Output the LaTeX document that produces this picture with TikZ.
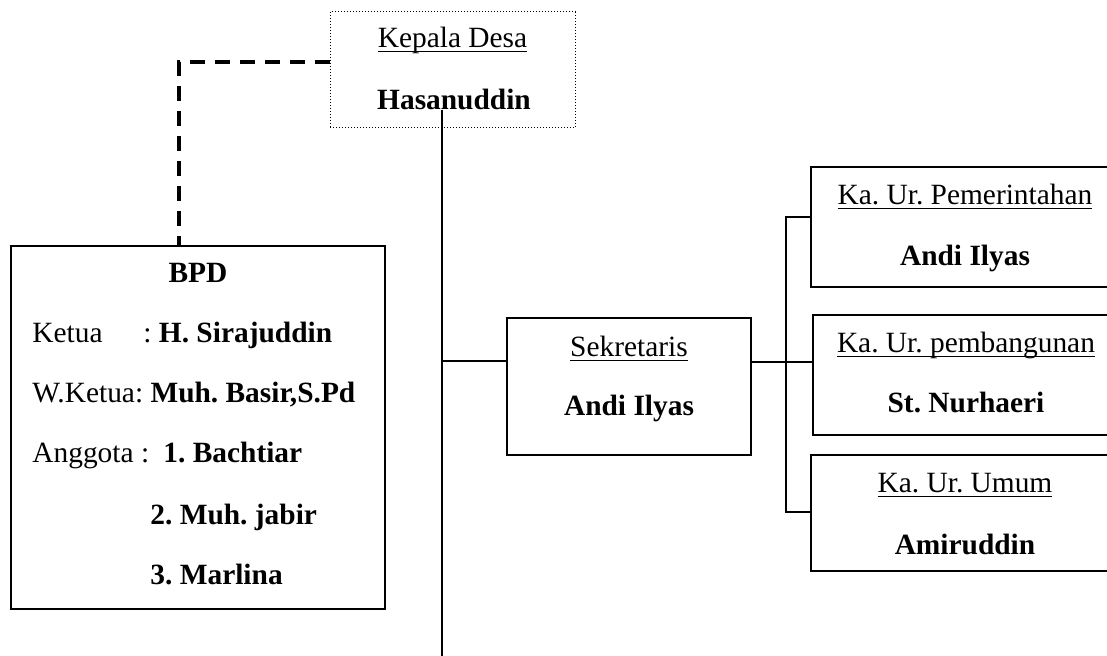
\documentclass[tikz,border=0pt]{standalone}
\usepackage{fontspec}
\setmainfont{Liberation Serif}
\frenchspacing
\newcommand\ulx[1]{\setbox0\hbox{#1}\rlap{\rule[-2.1pt]{\wd0}{0.75pt}}\box0}
\begin{document}
\begin{tikzpicture}[x=0.5pt,y=-0.5pt,
  every node/.style={font=\fontsize{14.7pt}{17pt}\selectfont\frenchspacing},
  box/.style={draw,line width=1pt,inner sep=0pt,rectangle},
  dotbox/.style={draw,line width=0.5pt,dash pattern=on 0.5pt off 1pt,inner sep=0pt,rectangle},
  txt/.style={inner sep=0pt,anchor=base},
  ltxt/.style={inner sep=0pt,anchor=base west},
  conn/.style={line width=0.85pt},
  dashline/.style={line width=1.75pt,dash pattern=on 7.5pt off 5pt}]
\useasboundingbox (0,0) rectangle (1107,656);
\clip (0,0) rectangle (1107,656);
% boxes
\node[dotbox,minimum width=122.5pt,minimum height=58pt] (kd) at (452.5,70) {};
\node[box,minimum width=187pt,minimum height=181.5pt] (bpd) at (198,427.5) {};
\node[box,minimum width=122pt,minimum height=68.5pt] (sek) at (629,386.5) {};
\node[box,minimum width=154pt,minimum height=60pt] (u1) at (965,227) {};
\node[box,minimum width=153pt,minimum height=60pt] (u2) at (966,375) {};
\node[box,minimum width=154pt,minimum height=58pt] (u3) at (965,513) {};
% texts
\node[txt] (kdt) at (452.5,48) {\ulx{Kepala Desa}};
\node[txt] (kdn) at (454,110) {\textbf{Hasanuddin}};
\node[txt] (bpdt) at (198,283) {\textbf{BPD}};
\node[ltxt] (k1) at (32,343) {Ketua};
\node[ltxt] (k2) at (143,343) {: \textbf{H. Sirajuddin}};
\node[ltxt] (w1) at (32,403) {W.Ketua: \textbf{Muh. Basir,S.Pd}};
\node[ltxt] (a1) at (32,463) {Anggota :};
\node[ltxt] (a2) at (163,463) {\textbf{1. Bachtiar}};
\node[ltxt] (a3) at (150,525) {\textbf{2. Muh. jabir}};
\node[ltxt] (a4) at (150,585) {\textbf{3. Marlina}};
\node[txt] (sekt) at (629,357) {\ulx{Sekretaris}};
\node[txt] (sekn) at (629,416) {\textbf{Andi Ilyas}};
\node[txt] (u1t) at (965,205) {\ulx{Ka. Ur. Pemerintahan}};
\node[txt] (u1n) at (965,266) {\textbf{Andi Ilyas}};
\node[txt] (u2t) at (966,353) {\ulx{Ka. Ur. pembangunan}};
\node[txt] (u2n) at (966,413) {\textbf{St. Nurhaeri}};
\node[txt] (u3t) at (965,493) {\ulx{Ka. Ur. Umum}};
\node[txt] (u3n) at (965,555) {\textbf{Amiruddin}};
% connectors
\coordinate (dk) at (179,62);
\draw[dashline] (kd.west |- dk) -- (dk) -- (dk |- bpd.north);
\coordinate (vtop) at (442,110);
\coordinate (vbot) at (442,656);
\draw[conn] (vtop) -- (vbot);
\coordinate (j1) at (442,361);
\draw[conn] (j1) -- (j1 -| sek.west);
\coordinate (j2) at (786,362);
\draw[conn] (j2 -| sek.east) -- (j2) -- (j2 -| u2.west);
\coordinate (rt) at (786,217);
\coordinate (rb) at (786,512);
\draw[conn] (rt -| u1.west) -- (rt) -- (rb) -- (rb -| u3.west);
\end{tikzpicture}
\end{document}
